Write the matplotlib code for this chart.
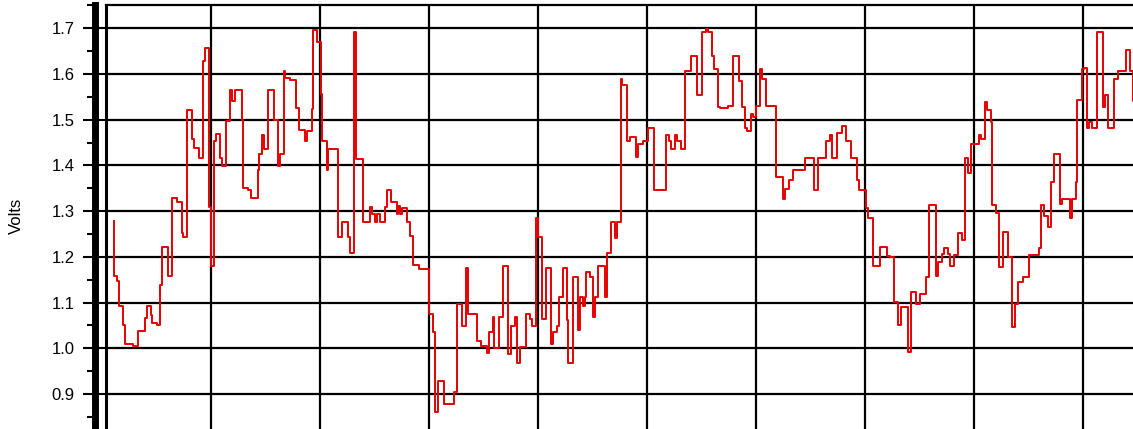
import matplotlib
matplotlib.use("Agg")
import matplotlib.pyplot as plt
from matplotlib.ticker import MultipleLocator, FormatStrFormatter

# time (s) where each sample starts, and the sampled voltage
t = [0.110, 0.113, 0.144, 0.159, 0.199, 0.214, 0.284, 0.336, 0.398, 0.413,
     0.450, 0.465, 0.505, 0.535, 0.557, 0.606, 0.648, 0.691, 0.734, 0.749,
     0.786, 0.832, 0.850, 0.890, 0.927, 0.948, 0.982, 1.000, 1.034, 1.046,
     1.086, 1.101, 1.138, 1.177, 1.193, 1.223, 1.284, 1.299, 1.339, 1.369,
     1.431, 1.443, 1.473, 1.492, 1.528, 1.583, 1.614, 1.635, 1.672, 1.681,
     1.727, 1.779, 1.812, 1.864, 1.880, 1.925, 1.941, 1.971, 2.008, 2.020,
     2.063, 2.078, 2.170, 2.200, 2.255, 2.276, 2.313, 2.328, 2.399, 2.460,
     2.481, 2.506, 2.521, 2.552, 2.597, 2.619, 2.649, 2.704, 2.720, 2.735,
     2.750, 2.796, 2.827, 2.857, 2.909, 3.004, 3.035, 3.056, 3.087, 3.139,
     3.230, 3.255, 3.306, 3.337, 3.355, 3.444, 3.478, 3.530, 3.554, 3.585,
     3.600, 3.643, 3.676, 3.728, 3.750, 3.789, 3.805, 3.835, 3.890, 3.927,
     3.948, 3.982, 3.997, 4.034, 4.070, 4.116, 4.141, 4.171, 4.193, 4.232,
     4.263, 4.278, 4.318, 4.364, 4.385, 4.415, 4.431, 4.440, 4.477, 4.507,
     4.522, 4.553, 4.614, 4.636, 4.666, 4.706, 4.721, 4.758, 4.773, 4.813,
     4.843, 4.899, 4.920, 4.965, 5.011, 5.063, 5.170, 5.204, 5.219, 5.256,
     5.277, 5.308, 5.347, 5.399, 5.454, 5.500, 5.540, 5.555, 5.595, 5.616,
     5.647, 5.668, 5.745, 5.790, 5.842, 5.867, 5.897, 5.913, 5.949, 5.974,
     5.995, 6.035, 6.056, 6.090, 6.182, 6.243, 6.264, 6.304, 6.341, 6.447,
     6.533, 6.569, 6.640, 6.677, 6.692, 6.744, 6.783, 6.820, 6.869, 6.920,
     6.942, 7.003, 7.028, 7.068, 7.135, 7.202, 7.226, 7.263, 7.303, 7.324,
     7.394, 7.419, 7.465, 7.501, 7.556, 7.584, 7.648, 7.669, 7.706, 7.721,
     7.761, 7.776, 7.813, 7.853, 7.890, 7.914, 7.945, 7.966, 8.042, 8.061,
     8.097, 8.119, 8.152, 8.164, 8.198, 8.229, 8.259, 8.305, 8.348, 8.372,
     8.397, 8.449, 8.501, 8.595, 8.614, 8.638, 8.678, 8.699, 8.733, 8.785,
     8.806, 8.876, 8.892, 8.928, 8.944, 8.983, 9.005, 9.035, 9.053, 9.081,
     9.127, 9.176, 9.197, 9.228, 9.283, 9.313, 9.389, 9.426, 9.450, 9.470]

volts = [1.278, 1.159, 1.147, 1.093, 1.051, 1.009, 1.004, 1.038, 1.067, 1.093,
         1.072, 1.055, 1.051, 1.138, 1.222, 1.159, 1.328, 1.320, 1.252, 1.243,
         1.522, 1.457, 1.438, 1.416, 1.628, 1.657, 1.310, 1.180, 1.454, 1.468,
         1.417, 1.399, 1.497, 1.564, 1.542, 1.564, 1.499, 1.350, 1.346, 1.328,
         1.391, 1.426, 1.467, 1.437, 1.564, 1.499, 1.399, 1.426, 1.607, 1.591,
         1.586, 1.526, 1.477, 1.454, 1.476, 1.523, 1.696, 1.669, 1.556, 1.454,
         1.390, 1.437, 1.243, 1.277, 1.243, 1.208, 1.691, 1.415, 1.277, 1.310,
         1.294, 1.277, 1.294, 1.277, 1.310, 1.347, 1.319, 1.294, 1.311, 1.294,
         1.306, 1.277, 1.246, 1.183, 1.174, 1.075, 1.035, 0.860, 0.929, 0.879,
         0.904, 1.096, 1.048, 1.175, 1.074, 1.017, 1.006, 0.989, 1.035, 1.068,
         1.000, 1.069, 1.179, 0.988, 1.048, 1.068, 0.967, 1.002, 1.074, 1.065,
         1.048, 1.285, 1.243, 1.065, 1.175, 1.010, 1.035, 1.049, 1.113, 1.175,
         1.061, 0.967, 1.157, 1.039, 1.113, 1.093, 1.113, 1.166, 1.157, 1.069,
         1.113, 1.179, 1.112, 1.208, 1.277, 1.241, 1.277, 1.589, 1.576, 1.454,
         1.463, 1.419, 1.448, 1.454, 1.483, 1.347, 1.467, 1.454, 1.436, 1.467,
         1.454, 1.436, 1.607, 1.640, 1.555, 1.691, 1.698, 1.691, 1.640, 1.611,
         1.528, 1.526, 1.531, 1.640, 1.585, 1.528, 1.483, 1.475, 1.512, 1.505,
         1.530, 1.611, 1.589, 1.530, 1.374, 1.327, 1.348, 1.369, 1.390, 1.416,
         1.347, 1.416, 1.454, 1.467, 1.416, 1.470, 1.487, 1.454, 1.416, 1.369,
         1.347, 1.308, 1.285, 1.179, 1.221, 1.203, 1.199, 1.102, 1.050, 1.090,
         0.991, 1.124, 1.096, 1.119, 1.157, 1.314, 1.159, 1.188, 1.206, 1.219,
         1.206, 1.179, 1.205, 1.252, 1.236, 1.416, 1.383, 1.448, 1.467, 1.458,
         1.538, 1.522, 1.496, 1.314, 1.297, 1.177, 1.255, 1.200, 1.047, 1.096,
         1.145, 1.157, 1.205, 1.219, 1.314, 1.290, 1.265, 1.364, 1.424, 1.316,
         1.327, 1.285, 1.327, 1.364, 1.543, 1.611, 1.614, 1.483, 1.496, 1.483,
         1.691, 1.528, 1.555, 1.483, 1.589, 1.606, 1.652, 1.606, 1.541, 1.541]

plt.rcParams['font.family'] = ['Liberation Sans', 'DejaVu Sans']

fig = plt.figure(figsize=(11.33, 4.29), dpi=100)
ax = fig.add_axes([106 / 1133, 0, 1 - 106 / 1133, 1 - 5.3 / 429])

ax.step(t, volts, where='post', color='#e60000', lw=1.4, zorder=3)

ax.set_xlim(0.04, 9.454)
ax.set_ylim(0.8235, 1.7503)
ax.xaxis.set_major_locator(MultipleLocator(1))
ax.yaxis.set_major_locator(MultipleLocator(0.1))
ax.yaxis.set_minor_locator(MultipleLocator(0.05))
ax.yaxis.set_major_formatter(FormatStrFormatter('%.1f'))
ax.grid(True, which='major', color='black', lw=1.6)

ax.spines['right'].set_visible(False)
ax.spines['bottom'].set_visible(False)
ax.spines['top'].set_linewidth(1.6)
ax.spines['left'].set_position(('outward', 7.6))
ax.spines['left'].set_linewidth(5)
ax.axvline(0.04, color='black', lw=2.2, clip_on=False, zorder=4)

ax.tick_params(axis='x', length=0, labelbottom=False)
ax.tick_params(axis='y', which='major', direction='inout', length=17,
               width=1.5, pad=6.5, labelsize=12)
ax.tick_params(axis='y', which='minor', length=5.5, width=1.5)

fig.text(16 / 1133, 1 - 216 / 429, 'Volts', rotation=90, ha='center',
         va='center', fontsize=12)

fig.savefig('out.png', dpi=100)
